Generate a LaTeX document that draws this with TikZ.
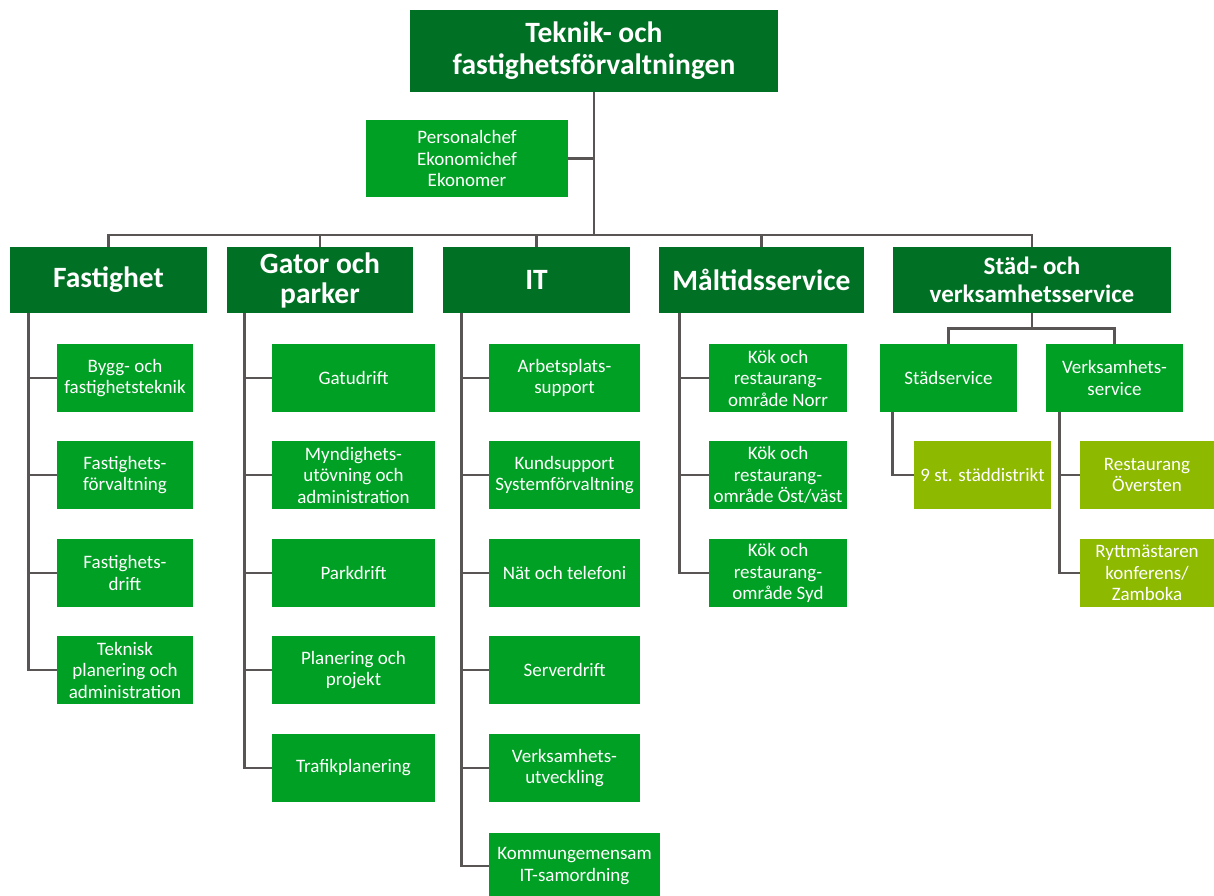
\documentclass[tikz,border=0pt]{standalone}
\usepackage{fontspec}
\setmainfont{Carlito}
\definecolor{dgreen}{RGB}{0,112,36}
\definecolor{mgreen}{RGB}{0,160,36}
\definecolor{lgreen}{RGB}{141,185,0}
\definecolor{lineg}{RGB}{89,85,85}
\tikzset{
  box/.style={fill=mgreen, text=white, align=center, inner sep=0pt, font=\fontsize{19}{21.5}\selectfont},
  head/.style={fill=dgreen, text=white, align=center, inner sep=0pt, font=\bfseries\fontsize{29.5}{30}\selectfont},
  lime/.style={box, fill=lgreen},
  conn/.style={draw=lineg, line width=2.8pt}
}
\begin{document}
\begin{tikzpicture}[x=1pt,y=-1pt]
\useasboundingbox (0,0) rectangle (1214,895);
% top
\node[head, font=\bfseries\fontsize{29.5}{32}\selectfont, minimum width=368, minimum height=82] (top) at (594,51) {Teknik- och\\fastighetsförvaltningen};
\node[box, minimum width=202, minimum height=77] (pers) at (467,158.5) {Personalchef\\Ekonomichef\\Ekonomer};
\coordinate (bus) at (594,235);
% level 1
\node[head, minimum width=197, minimum height=66] (fast) at (108.5,280) {Fastighet};
\node[head, minimum width=186, minimum height=66] (gator) at (320,280) {Gator och\\parker};
\node[head, minimum width=187, minimum height=66] (it) at (536.5,280) {IT};
\node[head, minimum width=205, minimum height=66] (malt) at (761.5,280) {Måltidsservice};
\node[head, font=\bfseries\fontsize{25}{28}\selectfont, minimum width=278, minimum height=66] (stad) at (1032,280) {Städ- och\\verksamhetsservice};
% Fastighet children
\node[box, minimum width=136, minimum height=68] (f1) at (125,378) {Bygg- och\\fastighetsteknik};
\node[box, minimum width=136, minimum height=68] (f2) at (125,475) {Fastighets-\\förvaltning};
\node[box, minimum width=136, minimum height=68] (f3) at (125,573) {Fastighets-\\drift};
\node[box, minimum width=136, minimum height=68] (f4) at (125,670) {Teknisk\\planering och\\administration};
% Gator children
\node[box, minimum width=163, minimum height=68] (g1) at (353.5,378) {Gatudrift};
\node[box, minimum width=163, minimum height=68] (g2) at (353.5,475) {Myndighets-\\utövning och\\administration};
\node[box, minimum width=163, minimum height=68] (g3) at (353.5,573) {Parkdrift};
\node[box, minimum width=163, minimum height=68] (g4) at (353.5,670) {Planering och\\projekt};
\node[box, minimum width=163, minimum height=68] (g5) at (353.5,768) {Trafikplanering};
% IT children
\node[box, minimum width=151, minimum height=68] (i1) at (564.5,378) {Arbetsplats-\\support};
\node[box, minimum width=151, minimum height=68] (i2) at (564.5,475) {Kundsupport\\Systemförvaltning};
\node[box, minimum width=151, minimum height=68] (i3) at (564.5,573) {Nät och telefoni};
\node[box, minimum width=151, minimum height=68] (i4) at (564.5,670) {Serverdrift};
\node[box, minimum width=151, minimum height=68] (i5) at (564.5,768) {Verksamhets-\\utveckling};
\node[box, minimum width=171, minimum height=66] (i6) at (574.5,866) {Kommungemensam\\IT-samordning};
% Maltid children
\node[box, minimum width=138, minimum height=68] (m1) at (778,378) {Kök och\\restaurang-\\område Norr};
\node[box, minimum width=138, minimum height=68] (m2) at (778,475) {Kök och\\restaurang-\\område Öst/väst};
\node[box, minimum width=138, minimum height=68] (m3) at (778,573) {Kök och\\restaurang-\\område Syd};
% Stad children
\node[box, minimum width=137, minimum height=68] (ss) at (948.5,378) {Städservice};
\node[box, minimum width=137, minimum height=68] (vs) at (1114.5,378) {Verksamhets-\\service};
\node[lime, minimum width=137, minimum height=68] (sd) at (982.5,475) {9 st. städdistrikt};
\node[lime, minimum width=134, minimum height=68] (ro) at (1147,475) {Restaurang\\Översten};
\node[lime, minimum width=134, minimum height=68] (ry) at (1147,573) {Ryttmästaren\\konferens/\\Zamboka};
% connectors
\draw[conn] (top.south) -- (bus);
\draw[conn] (pers.east) -- (pers.east -| top.south);
\draw[conn] (fast.north) |- (bus) -| (stad.north);
\draw[conn] (gator.north) -- ++(0,-12);
\draw[conn] (it.north) -- ++(0,-12);
\draw[conn] (malt.north) -- ++(0,-12);
% Fastighet
\draw[conn] ([xshift=19]fast.south west) |- (f4.west);
\foreach \n in {f1,f2,f3} \draw[conn] (\n.west) -- ++(-29,0);
% Gator
\draw[conn] ([xshift=18]gator.south west) |- (g5.west);
\foreach \n in {g1,g2,g3,g4} \draw[conn] (\n.west) -- ++(-28,0);
% IT
\draw[conn] ([xshift=19]it.south west) |- (i6.west);
\foreach \n in {i1,i2,i3,i4,i5} \draw[conn] (\n.west) -- ++(-28,0);
% Maltid
\draw[conn] ([xshift=21]malt.south west) |- (m3.west);
\foreach \n in {m1,m2} \draw[conn] (\n.west) -- ++(-30,0);
% Stad
\draw[conn] (stad.south) -- ++(0,16);
\draw[conn] (ss.north) -- ++(0,-15) -| (vs.north);
\draw[conn] ([xshift=13]ss.south west) |- (sd.west);
\draw[conn] ([xshift=14]vs.south west) |- (ry.west);
\draw[conn] (ro.west) -- ++(-21,0);
\end{tikzpicture}
\end{document}
